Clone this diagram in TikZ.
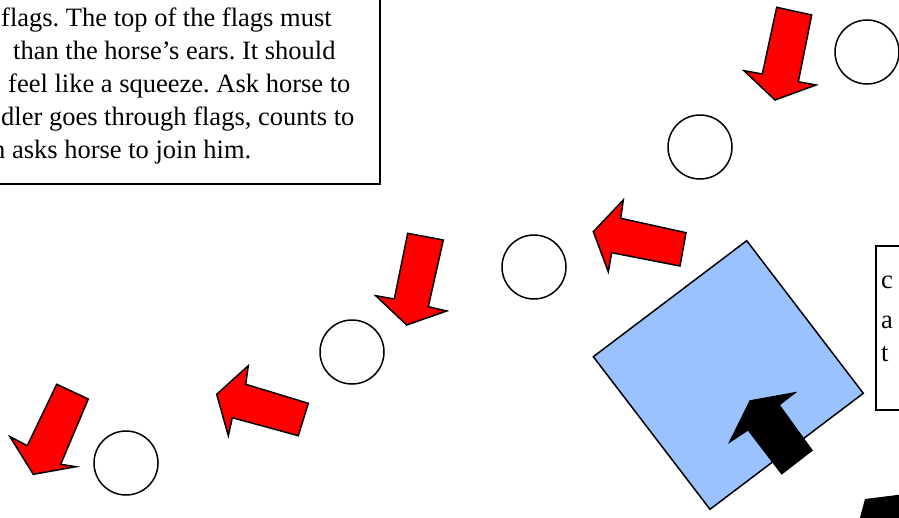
\documentclass[tikz,border=0pt]{standalone}
\usepackage{fontspec}
\setmainfont{Liberation Serif}
\frenchspacing
\definecolor{flagred}{RGB}{255,0,0}
\definecolor{padblue}{RGB}{153,194,255}
\tikzset{
  redarrow/.style={draw=black, fill=flagred, line width=1.5pt, line join=miter},
  blackarrow/.style={draw=black, fill=black, line width=1pt, line join=miter},
  flag/.style={draw=black, fill=white, line width=1.5pt, circle, minimum size=64pt, inner sep=0pt},
  notebox/.style={draw=black, line width=1.5pt},
  notetext/.style={anchor=base west, inner sep=0pt, font=\fontsize{26.5}{33}\selectfont}
}

\begin{document}
\begin{tikzpicture}[x=1pt, y=-1pt]
  \useasboundingbox (0,0) rectangle (899,517);
  \clip (0,0) rectangle (899,517);

  %--- Instruction box (top left, cut off) ---
  \draw[notebox] (-10,-10) rectangle (380,184);
  \node[notetext] (line1) at (1,26) {flags. The top of the flags must};
  \node[notetext] (line2) at (13,59) {than the horse’s ears. It should};
  \node[notetext] (line3) at (8,92) {feel like a squeeze. Ask horse to};
  \node[notetext] (line4) at (1,125) {dler goes through flags, counts to};
  \node[notetext] (line5) at (-8,158) {n\ asks horse to join him.};

  %--- Flags ---
  \node[flag] (flag1) at (867,52) {};
  \node[flag] (flag2) at (700,147) {};
  \node[flag] (flag3) at (534,267) {};
  \node[flag] (flag4) at (352,352) {};
  \node[flag] (flag5) at (126,463) {};

  %--- Red arrows ---
  % near flag 1
  \draw[redarrow] (776.7,7.3) -- (811.7,15) -- (798.3,81.7) -- (816,85) -- (775,100)
    -- (744,70.7) -- (762.3,74) -- cycle;
  % near flag 2
  \draw[redarrow] (593.3,231.7) -- (623.3,200) -- (620.7,218.3) -- (686,232.7) -- (680,266)
    -- (611.7,252.7) -- (608.3,271.7) -- cycle;
  % near flag 3
  \draw[redarrow] (407.7,233.3) -- (443.3,240) -- (428.3,306.7) -- (446.7,311) -- (406.7,325)
    -- (375.7,295.7) -- (394.3,299) -- cycle;
  % near flag 4
  \draw[redarrow] (216.7,394.3) -- (248.3,365.7) -- (245.7,384.3) -- (308.3,403.3) -- (298.3,435.7)
    -- (232.3,417.7) -- (228.3,435.7) -- cycle;
  % near flag 5
  \draw[redarrow] (56.7,384.3) -- (88.3,399) -- (60.7,464.3) -- (76,466.7) -- (33.3,474.3)
    -- (10,436.7) -- (27.3,445.7) -- cycle;

  %--- Start square ---
  \draw[draw=black, fill=padblue, line width=1.5pt] (746.7,240.7) -- (863.3,393.3) -- (710,509.3)
    -- (593.3,356.7) -- cycle;
  \draw[blackarrow] (750,400.7) -- (795.5,392.5) -- (779.3,405) -- (812.2,450.4) -- (781.7,474)
    -- (748,430) -- (729.3,442.5) -- cycle;

  %--- Second note box (right, cut off) ---
  \draw[notebox] (876,246) rectangle (915,410);
  \node[notetext] (side1) at (881,288) {c};
  \node[notetext] (side2) at (881,328) {a};
  \node[notetext] (side3) at (881,361) {t};

  % black arrow (bottom right, cut off)
  \fill[black] (865,499) -- (905,494) -- (905,525) -- (858,525) -- cycle;
\end{tikzpicture}
\end{document}
